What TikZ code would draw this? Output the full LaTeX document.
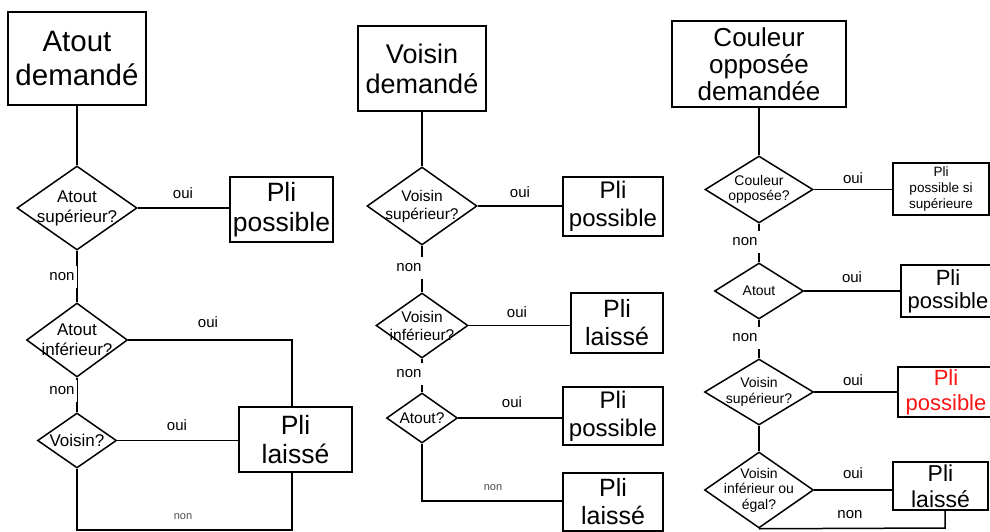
\documentclass[tikz,border=0pt]{standalone}
\usepackage{fontspec}
\setmainfont{Liberation Sans}
\usetikzlibrary{shapes.geometric}
\definecolor{pired}{RGB}{250,20,20}
\begin{document}
\begin{tikzpicture}[x=1pt,y=-1pt, line width=1.5pt,
  box/.style 2 args={draw, rectangle, inner sep=0pt, align=center, minimum width=#1, minimum height=#2},
  dia/.style 2 args={draw, diamond, inner sep=0pt, minimum width=#1, minimum height=#2},
  dtA/.style={font=\fontsize{17}{20}\selectfont, align=center, inner sep=0pt},
  dtB/.style={font=\fontsize{15.5}{18}\selectfont, align=center, inner sep=0pt},
  dtC/.style={font=\fontsize{14}{15.5}\selectfont, align=center, inner sep=0pt},
  lab/.style={font=\fontsize{15}{17}\selectfont, inner sep=1pt},
  gap/.style={lab, fill=white, minimum width=30pt, minimum height=22pt},
  tinylab/.style={font=\fontsize{11}{12}\selectfont, inner sep=0pt, text=black!70}
]
\useasboundingbox (0,0) rectangle (990,532);
\fill[white] (0,0) rectangle (990,532);

% ---------------- Column 1 ----------------
\node[box={138pt}{93pt}, font=\fontsize{29.5}{34}\selectfont] (b1) at (77,58.5) {Atout\\demandé};
\node[dia={120pt}{84pt}, label={[dtA]center:{Atout\\supérieur?}}] (d1) at (77,208) {};
\node[box={103pt}{65pt}, font=\fontsize{26.5}{30}\selectfont] (p1) at (281.5,209.5) {Pli\\possible};
\node[dia={101pt}{74pt}, label={[dtA]center:{Atout\\inférieur?}}] (d2) at (77,340) {};
\node[dia={79pt}{55pt}, label={[dtA]center:{Voisin?}}] (d3) at (77,440.5) {};
\node[box={113pt}{65pt}, font=\fontsize{26.5}{29}\selectfont] (l1) at (295.5,439.5) {Pli\\laissé};
\coordinate (c1) at (292,340);
\coordinate (c2) at (77,530);
\coordinate (c3) at (292,530);

\draw (b1.south) -- (d1.north);
\draw (d1.east) -- (d1.east -| p1.west);
\draw (d1.south) -- (d2.north);
\draw (d2.east) -- (c1) -- (c1 |- l1.north);
\draw (d2.south) -- (d3.north);
\draw (d3.east) -- (d3.east -| l1.west);
\draw (d3.south) -- (c2) -- (c3) -- (c3 |- l1.south);

\node[lab] (o1) at (183,193) {oui};
\node[gap] (n1) at (62,277) {non};
\node[lab] (o2) at (208,322) {oui};
\node[gap] (n2) at (62,391) {non};
\node[lab] (o3) at (177,425) {oui};
\node[tinylab] (n3) at (183,517) {non};

% ---------------- Column 2 ----------------
\node[box={128pt}{85pt}, font=\fontsize{27}{30}\selectfont] (b2) at (422,68.5) {Voisin\\demandé};
\node[dia={110pt}{78pt}, label={[dtB]center:{Voisin\\supérieur?}}] (d4) at (422,206) {};
\node[box={100pt}{59pt}, font=\fontsize{24}{28}\selectfont] (p2) at (613,206.5) {Pli\\possible};
\node[dia={92pt}{65pt}, label={[dtB]center:{Voisin\\inférieur?}}] (d5) at (422,325.5) {};
\node[box={92pt}{60pt}, font=\fontsize{25}{28}\selectfont] (l2) at (617,323) {Pli\\laissé};
\node[dia={71pt}{50pt}, label={[dtB]center:{Atout?}}] (d6) at (422,418) {};
\node[box={100pt}{58pt}, font=\fontsize{24}{28}\selectfont] (p3) at (613,416) {Pli\\possible};
\node[box={100pt}{58pt}, font=\fontsize{25}{28}\selectfont] (l3) at (613,502) {Pli\\laissé};
\coordinate (c4) at (422,501);

\draw (b2.south) -- (d4.north);
\draw (d4.east) -- (d4.east -| p2.west);
\draw (d4.south) -- (d5.north);
\draw (d5.east) -- (d5.east -| l2.west);
\draw (d5.south) -- (d6.north);
\draw (d6.east) -- (d6.east -| p3.west);
\draw (d6.south) -- (c4) -- (c4 -| l3.west);

\node[lab] (o4) at (520,192) {oui};
\node[gap] (n4) at (409,268) {non};
\node[lab] (o5) at (517,312) {oui};
\node[gap] (n5) at (409,374) {non};
\node[lab] (o6) at (512,402) {oui};
\node[tinylab] (n6) at (493,488) {non};

% ---------------- Column 3 ----------------
\node[box={174pt}{86pt}, font=\fontsize{26}{27}\selectfont] (b3) at (759,64) {Couleur\\opposée\\demandée};
\node[dia={108pt}{67pt}, label={[dtC]center:{Couleur\\opposée?}}] (d7) at (759,189.5) {};
\node[box={96pt}{52pt}, font=\fontsize{13.5}{16}\selectfont] (p4) at (941,189) {Pli\\possible si\\supérieure};
\node[dia={89pt}{56pt}, label={[dtC]center:{Atout}}] (d8) at (759,291) {};
\node[box={94pt}{52pt}, font=\fontsize{22}{23}\selectfont] (p5) at (948,291) {Pli\\possible};
\node[dia={109pt}{66pt}, label={[dtC]center:{Voisin\\supérieur?}}] (d9) at (759,392) {};
\node[box={96pt}{50pt}, font=\fontsize{22}{25}\selectfont, text=pired] (p6) at (946,392) {Pli\\possible};
\node[dia={109pt}{76pt}, label={[dtC]center:{Voisin\\inférieur ou\\égal?}}] (d10) at (759,490) {};
\node[box={95pt}{48pt}, font=\fontsize{23}{26}\selectfont] (l4) at (940.5,486) {Pli\\laissé};
\coordinate (c5) at (945,528);

\draw (b3.south) -- (d7.north);
\draw (d7.east) -- (d7.east -| p4.west);
\draw (d7.south) -- (d8.north);
\draw (d8.east) -- (d8.east -| p5.west);
\draw (d8.south) -- (d9.north);
\draw (d9.east) -- (d9.east -| p6.west);
\draw (d9.south) -- (d10.north);
\draw (d10.east) -- (d10.east -| l4.west);
\draw (d10.south) -- (c5) -- (c5 |- l4.south);

\node[lab] (o7) at (853,178) {oui};
\node[gap] (n7) at (745,242) {non};
\node[lab] (o8) at (852,277) {oui};
\node[gap] (n8) at (745,338) {non};
\node[lab] (o9) at (853,380) {oui};
\node[lab] (o10) at (853,473) {oui};
\node[lab] (n10) at (850,515) {non};
\end{tikzpicture}
\end{document}
